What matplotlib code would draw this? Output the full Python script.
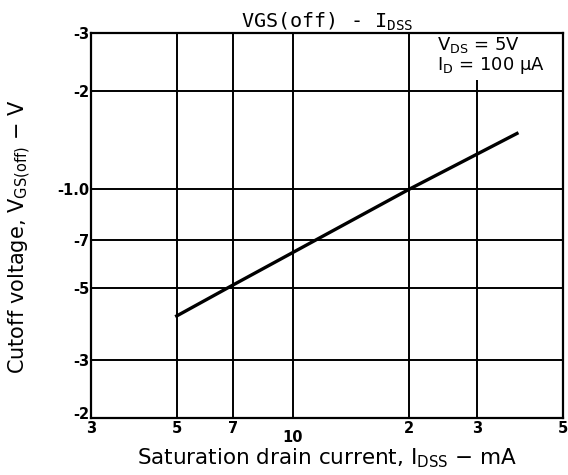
import matplotlib
matplotlib.use("Agg")
import matplotlib.pyplot as plt
from matplotlib.transforms import ScaledTranslation

# Data
idss_mA = [5, 7, 20, 38]
vgs_off_V = [-0.41, -0.51, -1.0, -1.48]

x_ticks = [3, 5, 7, 10, 20, 30, 50]
x_tick_labels = ["3", "5", "7", "10", "2", "3", "5"]
y_ticks = [-0.2, -0.3, -0.5, -0.7, -1.0, -2, -3]
y_tick_labels = ["-2", "-3", "-5", "-7", "-1.0", "-2", "-3"]

fig = plt.figure(figsize=(5.68, 4.75), dpi=100)
ax = fig.add_axes([0.1602, 0.12, 0.831, 0.8105])

ax.set_xscale("log")
ax.set_yscale("log")
ax.set_xlim(3, 50)
ax.set_ylim(0.2, 3)

# grid lines
for xv in x_ticks[1:-1]:
    ax.axvline(xv, color="black", lw=1.4, zorder=1)
for yv in y_ticks[1:-1]:
    ax.axhline(-yv, color="black", lw=1.4, zorder=1)

ax.plot(idss_mA, [-v for v in vgs_off_V], color="black", lw=2.4, zorder=3)

ax.xaxis.set_minor_locator(matplotlib.ticker.NullLocator())
ax.yaxis.set_minor_locator(matplotlib.ticker.NullLocator())
ax.set_xticks(x_ticks)
ax.set_xticklabels(x_tick_labels, fontweight="bold", fontsize=10.5)
ax.set_yticks([-v for v in y_ticks])
ax.set_yticklabels(y_tick_labels, fontweight="bold", fontsize=10.5)
ax.tick_params(length=0)
ax.tick_params(axis="y", pad=1)
ax.tick_params(axis="x", pad=2)
ax.xaxis.get_major_ticks()[3].set_pad(9)

# nudge the bottom-left y label up so it does not sit on the "3"
lbl = ax.get_yticklabels()[0]
lbl.set_transform(lbl.get_transform() + ScaledTranslation(0, 5 / 100, fig.dpi_scale_trans))

for s in ax.spines.values():
    s.set_linewidth(1.6)
    s.set_color("black")
    s.set_zorder(5)

ax.set_title(r"VGS(off) - I$_{\mathregular{DSS}}$", fontsize=14.5, pad=4,
             family="DejaVu Sans Mono")
ax.set_xlabel(r"Saturation drain current, I$_{\rm DSS}$ − mA", fontsize=15.5, labelpad=1)
ax.set_ylabel(r"Cutoff voltage, V$_{\rm GS(off)}$ − V", fontsize=15, labelpad=6)
ax.yaxis.set_label_coords(-0.123, 0.47)

ax.text(0.733, 0.995, "V$_{\\rm DS}$ = 5V\nI$_{\\rm D}$ = 100 μA", transform=ax.transAxes,
        ha="left", va="top", fontsize=13, linespacing=1.0, multialignment="left",
        zorder=4, bbox=dict(facecolor="white", edgecolor="none", pad=3))

fig.savefig("out.png", dpi=100)
